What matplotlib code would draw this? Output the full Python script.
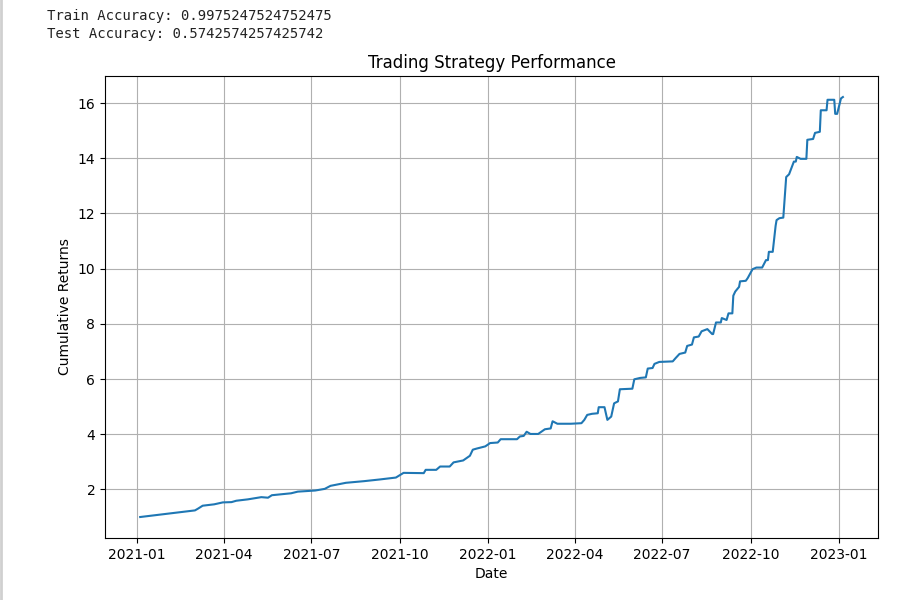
import pandas as pd
import matplotlib
matplotlib.use('Agg')
import matplotlib.pyplot as plt
from matplotlib.lines import Line2D

# accuracies printed above the figure
train_acc = 0.9975247524752475
test_acc = 0.5742574257425742

# cumulative returns
dates = [
    '2021-01-04', '2021-03-02', '2021-03-05', '2021-03-10', '2021-03-22', '2021-03-31',
    '2021-04-09', '2021-04-14', '2021-04-26', '2021-05-10', '2021-05-17', '2021-05-21',
    '2021-06-10', '2021-06-17', '2021-07-05', '2021-07-15', '2021-07-21', '2021-08-06',
    '2021-08-25', '2021-09-10', '2021-09-27', '2021-10-05', '2021-10-26', '2021-10-28',
    '2021-11-08', '2021-11-12', '2021-11-22', '2021-11-26', '2021-12-06', '2021-12-13',
    '2021-12-16', '2021-12-20', '2021-12-29', '2022-01-03', '2022-01-11', '2022-01-14',
    '2022-01-31', '2022-02-03', '2022-02-07', '2022-02-10', '2022-02-14', '2022-02-22',
    '2022-03-01', '2022-03-07', '2022-03-09', '2022-03-14', '2022-03-28', '2022-04-08',
    '2022-04-11', '2022-04-14', '2022-04-19', '2022-04-25', '2022-04-26', '2022-05-02',
    '2022-05-05', '2022-05-09', '2022-05-12', '2022-05-16', '2022-05-18', '2022-05-31',
    '2022-06-02', '2022-06-08', '2022-06-14', '2022-06-16', '2022-06-21', '2022-06-23',
    '2022-06-28', '2022-07-12', '2022-07-15', '2022-07-19', '2022-07-25', '2022-07-27',
    '2022-08-01', '2022-08-03', '2022-08-08', '2022-08-11', '2022-08-17', '2022-08-22',
    '2022-08-23', '2022-08-26', '2022-08-31', '2022-09-01', '2022-09-06', '2022-09-08',
    '2022-09-12', '2022-09-13', '2022-09-15', '2022-09-19', '2022-09-20', '2022-09-26',
    '2022-09-28', '2022-10-03', '2022-10-07', '2022-10-13', '2022-10-17', '2022-10-19',
    '2022-10-20', '2022-10-24', '2022-10-27', '2022-10-28', '2022-10-31', '2022-11-04',
    '2022-11-07', '2022-11-10', '2022-11-15', '2022-11-17', '2022-11-18', '2022-11-22',
    '2022-11-28', '2022-11-29', '2022-12-05', '2022-12-07', '2022-12-12', '2022-12-13',
    '2022-12-19', '2022-12-20', '2022-12-27', '2022-12-28', '2022-12-30', '2023-01-03',
    '2023-01-05',
]
returns = [
    1.00, 1.24, 1.30, 1.41, 1.46, 1.53,
    1.54, 1.59, 1.64, 1.72, 1.70, 1.79,
    1.86, 1.92, 1.96, 2.02, 2.13, 2.24,
    2.30, 2.36, 2.43, 2.60, 2.59, 2.71,
    2.71, 2.83, 2.83, 2.98, 3.05, 3.22,
    3.44, 3.48, 3.56, 3.68, 3.70, 3.82,
    3.82, 3.92, 3.94, 4.09, 4.01, 4.01,
    4.18, 4.21, 4.47, 4.38, 4.38, 4.40,
    4.52, 4.70, 4.74, 4.76, 4.98, 4.98,
    4.52, 4.64, 5.12, 5.19, 5.63, 5.65,
    5.99, 6.04, 6.06, 6.38, 6.40, 6.55,
    6.62, 6.64, 6.76, 6.91, 6.96, 7.20,
    7.25, 7.51, 7.54, 7.73, 7.81, 7.63,
    7.63, 8.05, 8.05, 8.21, 8.14, 8.38,
    8.38, 9.02, 9.17, 9.34, 9.54, 9.56,
    9.66, 9.98, 10.04, 10.04, 10.31, 10.31,
    10.61, 10.61, 11.55, 11.76, 11.83, 11.85,
    13.32, 13.42, 13.88, 13.88, 14.05, 13.98,
    13.98, 14.67, 14.70, 14.92, 14.96, 15.74,
    15.74, 16.12, 16.12, 15.61, 15.61, 16.17,
    16.22,
]


def main():
    df = pd.DataFrame({'date': pd.to_datetime(dates), 'cum': returns})

    fig = plt.figure(figsize=(9, 6), dpi=100)
    ax = fig.add_axes([0.1167, 0.1033, 0.8589, 0.77])
    ax.plot(df['date'], df['cum'], color='#1f77b4', linewidth=1.5)
    ax.set_title('Trading Strategy Performance', fontsize=12)
    ax.set_xlabel('Date')
    ax.set_ylabel('Cumulative Returns')
    ax.grid(True)

    # notebook-style printed output above the plot
    fig.text(0.052, 0.973, f'Train Accuracy: {train_acc}', family='DejaVu Sans Mono',
             fontsize=10, color='#222222', va='center')
    fig.text(0.052, 0.943, f'Test Accuracy: {test_acc}', family='DejaVu Sans Mono',
             fontsize=10, color='#222222', va='center')
    # left border of the output cell
    fig.add_artist(Line2D([0.001, 0.001], [0, 1], transform=fig.transFigure,
                          color='#d0d0d0', linewidth=2))

    fig.savefig('out.png', dpi=100)


if __name__ == '__main__':
    main()
